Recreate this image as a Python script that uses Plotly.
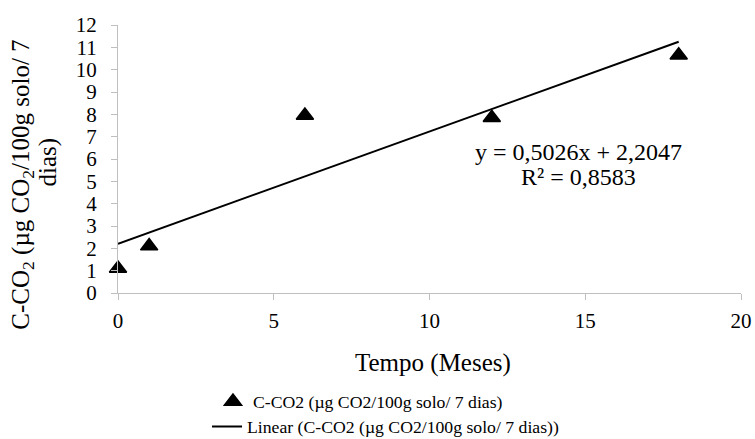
import plotly.graph_objects as go

# ---- data ----
tempo = [0, 1, 6, 12, 18]
c_co2 = [1.1, 2.1, 7.95, 7.85, 10.65]
slope = 0.5026
intercept = 2.2047
r2 = 0.8583
x_ticks = [0, 5, 10, 15, 20]
y_ticks = list(range(0, 13))

serie_nome = "C-CO2 (µg CO2/100g solo/ 7 dias)"
linear_nome = "Linear (C-CO2 (µg CO2/100g solo/ 7 dias))"
x_titulo = "Tempo (Meses)"
y_titulo_l1 = "C-CO<sub>2</sub> (µg CO<sub>2</sub>/100g solo/ 7"
y_titulo_l2 = "dias)"

FONT = "Liberation Serif, Times New Roman, serif"

fit_x = [min(tempo), max(tempo)]
fit_y = [slope * v + intercept for v in fit_x]

fig = go.Figure()
fig.add_trace(go.Scatter(
    x=tempo, y=c_co2, mode="markers", name=serie_nome,
    marker=dict(symbol="triangle-up", size=15, color="black",
                line=dict(color="black", width=1.5)),
    cliponaxis=False, legend="legend",
))
fig.add_trace(go.Scatter(
    x=fit_x, y=fit_y, mode="lines", name=linear_nome,
    line=dict(color="black", width=2), legend="legend2",
))

eq_txt = f"y = {slope:.4f}x + {intercept:.4f}".replace(".", ",")
r2_txt = f"R² = {r2:.4f}".replace(".", ",")
fig.add_annotation(x=14.78, y=6.3, xref="x", yref="y", showarrow=False,
                   text=eq_txt, font=dict(family=FONT, size=24, color="black"))
fig.add_annotation(x=14.78, y=5.18, xref="x", yref="y", showarrow=False,
                   text=r2_txt, font=dict(family=FONT, size=24, color="black"))

# axis titles
fig.add_annotation(x=0.505, y=-0.26, xref="paper", yref="paper", showarrow=False,
                   text=x_titulo, font=dict(family=FONT, size=25, color="black"),
                   xanchor="center", yanchor="middle")
fig.add_annotation(x=-0.153, y=0.403, xref="paper", yref="paper", showarrow=False,
                   text=y_titulo_l1, textangle=-90,
                   font=dict(family=FONT, size=25, color="black"),
                   xanchor="center", yanchor="middle")
fig.add_annotation(x=-0.113, y=0.489, xref="paper", yref="paper", showarrow=False,
                   text=y_titulo_l2, textangle=-90,
                   font=dict(family=FONT, size=25, color="black"),
                   xanchor="center", yanchor="middle")

fig.update_layout(
    width=755, height=439,
    margin=dict(l=118, r=14, t=25, b=146, autoexpand=False),
    paper_bgcolor="white", plot_bgcolor="white",
    font=dict(family=FONT, size=20, color="black"),
    showlegend=True,
    legend=dict(x=0.2821, y=0.0842, xref="container", yref="container",
                xanchor="left", yanchor="middle",
                font=dict(family=FONT, size=17.7, color="black"),
                bgcolor="rgba(0,0,0,0)"),
    legend2=dict(x=0.2742, y=0.0273, xref="container", yref="container",
                 xanchor="left", yanchor="middle",
                 font=dict(family=FONT, size=17.7, color="black"),
                 bgcolor="rgba(0,0,0,0)"),
)
fig.update_xaxes(
    range=[0, 20], tickvals=x_ticks, ticktext=[str(v) for v in x_ticks],
    showgrid=False, zeroline=False, showline=True, linecolor="#bfbfbf", linewidth=1,
    ticks="outside", ticklen=6, tickcolor="#bfbfbf", ticklabelstandoff=3,
    tickfont=dict(family=FONT, size=21, color="black"), automargin=False,
)
fig.update_yaxes(
    range=[0, 12], tickvals=y_ticks, ticktext=[str(v) for v in y_ticks],
    showgrid=False, zeroline=False, showline=True, linecolor="#bfbfbf", linewidth=1,
    ticks="outside", ticklen=6, tickcolor="#bfbfbf", ticklabelstandoff=10,
    tickfont=dict(family=FONT, size=21, color="black"), automargin=False,
)

fig.write_html("out.html")
